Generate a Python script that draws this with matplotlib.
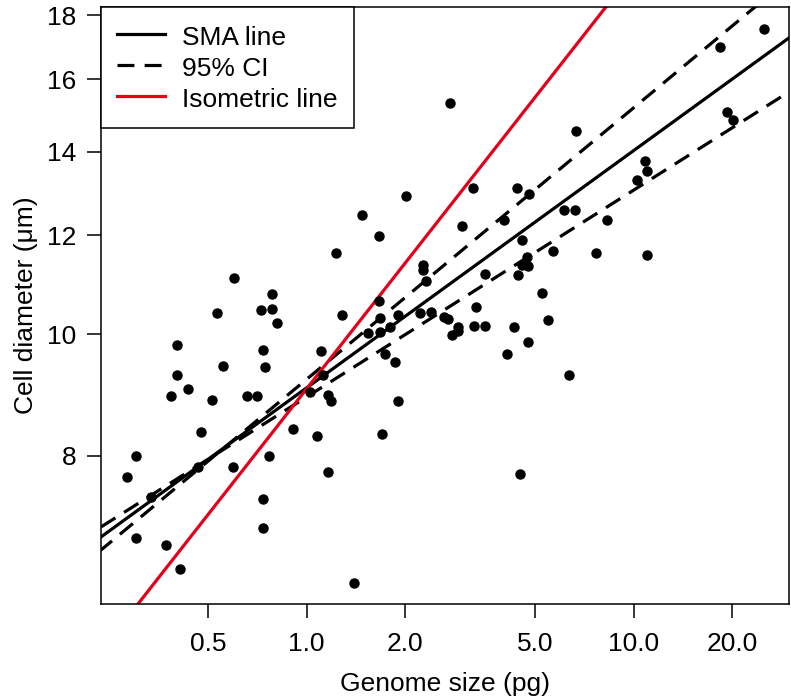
import numpy as np
import matplotlib
matplotlib.use("Agg")
import matplotlib.pyplot as plt
from matplotlib.ticker import FixedLocator, FixedFormatter, NullLocator

plt.rcParams['font.family'] = ['Liberation Sans', 'DejaVu Sans']

# genome size (pg) and cell diameter (um)
genome = [0.283, 0.301, 0.301, 0.334, 0.372, 0.410, 0.385, 0.402, 0.402, 0.434,
          0.476, 0.514, 0.533, 0.556, 0.600, 0.658, 0.706, 0.726, 0.736, 0.747,
          0.784, 0.784, 0.812, 0.596, 0.466, 0.768, 0.736, 0.736, 0.909, 1.025,
          1.077, 1.107, 1.123, 1.164, 1.188, 1.164, 1.231, 1.284, 1.397, 1.478,
          1.666, 1.666, 1.678, 1.905, 1.542, 1.678, 1.800, 1.739, 1.865, 1.702,
          1.905, 2.015, 2.224, 2.272, 2.272, 2.320, 2.403, 2.634, 2.709, 2.906,
          2.906, 2.786, 3.253, 3.515, 3.299, 3.515, 4.434, 4.311, 4.758, 4.104,
          5.251, 5.477, 6.350, 4.497, 2.747, 2.989, 3.230, 4.018, 4.403, 4.560,
          4.791, 4.560, 4.758, 4.724, 5.673, 6.131, 6.624, 6.672, 7.680, 8.299,
          10.25, 10.84, 11.00, 11.00, 18.39, 19.32, 20.15, 25.07]
diameter = [7.70, 8.00, 6.88, 7.42, 6.79, 6.49, 8.93, 9.81, 9.29, 9.05,
            8.36, 8.87, 10.41, 9.44, 11.10, 8.93, 8.93, 10.46, 9.72, 9.42,
            10.78, 10.48, 10.22, 7.84, 7.84, 7.99, 7.39, 7.00, 8.41, 9.00,
            8.29, 9.70, 9.29, 8.95, 8.85, 7.77, 11.62, 10.37, 6.33, 12.46,
            11.99, 10.64, 10.31, 10.37, 10.03, 10.05, 10.14, 9.65, 9.51, 8.32,
            8.85, 12.91, 10.41, 11.37, 11.26, 11.04, 10.42, 10.33, 10.29, 10.14,
            10.07, 9.99, 10.16, 10.16, 10.52, 11.18, 11.16, 10.14, 9.87, 9.65,
            10.80, 10.27, 9.29, 7.73, 15.31, 12.22, 13.10, 12.35, 13.10, 11.90,
            12.95, 11.37, 11.35, 11.53, 11.66, 12.58, 12.58, 14.54, 11.62, 12.35,
            13.29, 13.76, 13.51, 11.58, 16.97, 15.06, 14.84, 17.54]

# fitted lines in log10 space: log10(d) = a + b*log10(g)
line_names = ['SMA line', '95% CI', '95% CI', 'Isometric line']
line_intercepts = [0.9574, 0.9642, 0.9501, 0.9566]
line_slopes = [0.1895, 0.2169, 0.1652, 1 / 3]

x_ticks = [0.5, 1.0, 2.0, 5.0, 10.0, 20.0]
x_tick_labels = ['0.5', '1.0', '2.0', '5.0', '10.0', '20.0']
y_ticks = [8, 10, 12, 14, 16, 18]

fs = 19

fig = plt.figure(figsize=(7.91, 6.97), dpi=100)
ax = fig.add_axes([0.1277, 0.1334, 0.8698, 0.8566])
ax.set_xscale('log')
ax.set_yscale('log')
ax.set_xlim(0.235, 29.9)
ax.set_ylim(6.09, 18.27)

ax.plot(genome, diameter, 'o', color='black', ms=6.5, mec='black', zorder=3)

xs = np.logspace(np.log10(0.2), np.log10(35), 200)
styles = [dict(color='black', ls='-'),
          dict(color='black', ls=(0, (5.3, 3.2))),
          dict(color='black', ls=(0, (5.3, 3.2))),
          dict(color='#E50019', ls='-')]
for name, a, b, st in zip(line_names, line_intercepts, line_slopes, styles):
    ax.plot(xs, 10 ** (a + b * np.log10(xs)), lw=2.3, label=name, zorder=2, **st)

ax.xaxis.set_major_locator(FixedLocator(x_ticks))
ax.xaxis.set_major_formatter(FixedFormatter(x_tick_labels))
ax.xaxis.set_minor_locator(NullLocator())
ax.yaxis.set_major_locator(FixedLocator(y_ticks))
ax.yaxis.set_major_formatter(FixedFormatter([str(v) for v in y_ticks]))
ax.yaxis.set_minor_locator(NullLocator())
ax.tick_params(direction='out', length=10, width=1.1, labelsize=fs)
ax.tick_params(axis='x', pad=10)
ax.tick_params(axis='y', pad=8)
for s in ax.spines.values():
    s.set_linewidth(1.1)

ax.set_xlabel('Genome size (pg)', fontsize=fs, labelpad=12)
ax.set_ylabel('Cell diameter (μm)', fontsize=fs, labelpad=6)

h, l = ax.get_legend_handles_labels()
leg = ax.legend([h[0], h[1], h[3]], [l[0], l[1], l[3]], loc='upper left',
                bbox_to_anchor=(0, 1), borderaxespad=0, fontsize=fs,
                fancybox=False, framealpha=1, edgecolor='black',
                handlelength=1.82, handleheight=1.14, handletextpad=0.64,
                labelspacing=0.14, borderpad=0.62)
leg.get_frame().set_linewidth(1.1)

fig.savefig('out.png', dpi=100)
